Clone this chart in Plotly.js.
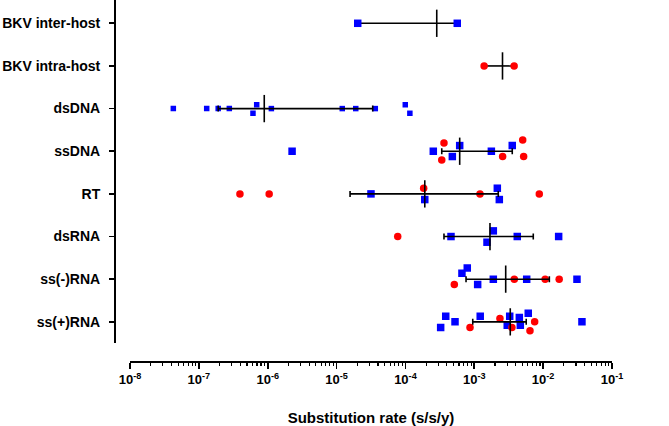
<!DOCTYPE html>
<html>
<head>
<meta charset="utf-8">
<script src="https://cdn.plot.ly/plotly-3.0.1.min.js"></script>
<style>html,body{margin:0;padding:0;background:#fff;}#chart{width:669px;height:426px;}</style>
</head>
<body>
<div id="chart"></div>
<script>
// Categories (top to bottom)
const categories = ['BKV inter-host','BKV intra-host','dsDNA','ssDNA','RT','dsRNA','ss(-)RNA','ss(+)RNA'];

// Individual rates (s/s/y) per category; offsets = vertical jitter in category units
const interHostBlue = [2.03e-5, 5.66e-4];
const interHostBlueOffset = [0, 0];
const intraHostRed = [1.39e-3, 3.79e-3];
const intraHostRedOffset = [0, 0];
const dsDNABlue = [4.26e-8, 1.30e-7, 1.91e-7, 2.77e-7, 6.11e-7, 6.92e-7, 1.13e-6, 1.21e-5, 1.90e-5, 3.65e-5, 9.95e-5, 1.16e-4];
const dsDNABlueOffset = [0, 0, 0, 0, 0.11, -0.09, 0, 0, 0, 0, -0.09, 0.11];
const ssDNABlue = [2.26e-6, 2.54e-4, 4.80e-4, 6.14e-4, 1.77e-3, 3.56e-3];
const ssDNABlueOffset = [0, 0, 0.124, -0.133, 0, -0.133];
const ssDNARed = [3.63e-4, 3.37e-4, 2.58e-3, 5.05e-3, 5.21e-3];
const ssDNARedOffset = [-0.195, 0.204, 0.124, -0.265, 0.124];
const rtBlue = [3.16e-5, 1.91e-4, 2.16e-3, 2.31e-3];
const rtBlueOffset = [0, 0.133, -0.133, 0.133];
const rtRed = [3.95e-7, 1.05e-6, 1.84e-4, 1.21e-3, 8.79e-3];
const rtRedOffset = [0, 0, -0.133, 0, 0];
const dsRNABlue = [4.59e-4, 1.89e-3, 1.53e-3, 4.21e-3, 1.68e-2];
const dsRNABlueOffset = [0, -0.133, 0.133, 0, 0];
const dsRNARed = [7.73e-5];
const dsRNARedOffset = [0];
const ssMinusBlue = [7.91e-4, 6.62e-4, 1.12e-3, 1.89e-3, 5.77e-3, 3.10e-2];
const ssMinusBlueOffset = [-0.265, -0.14, 0.124, 0, 0, 0];
const ssMinusRed = [5.13e-4, 3.81e-3, 1.07e-2, 1.71e-2];
const ssMinusRedOffset = [0.124, 0, 0, 0];
const ssPlusBlue = [3.85e-4, 3.25e-4, 5.25e-4, 1.22e-3, 3.27e-3, 3.01e-3, 4.51e-3, 4.66e-3, 6.08e-3, 3.66e-2];
const ssPlusBlueOffset = [-0.133, 0.133, 0, -0.133, -0.133, 0.078, -0.10, 0.078, -0.203, 0];
const ssPlusRed = [8.67e-4, 2.36e-3, 3.52e-3, 7.53e-3, 6.44e-3];
const ssPlusRedOffset = [0.133, -0.078, 0.133, 0, 0.21];

// Summary per category: median and interquartile range
const medianRate = [2.85e-4, 2.57e-3, 8.91e-7, 6.14e-4, 1.91e-4, 1.69e-3, 2.86e-3, 3.33e-3];
const lowRate = [2.03e-5, 1.39e-3, 1.91e-7, 3.37e-4, 1.57e-5, 3.63e-4, 7.59e-4, 9.50e-4];
const highRate = [5.66e-4, 3.79e-3, 3.35e-5, 3.56e-3, 2.23e-3, 7.19e-3, 1.23e-2, 5.68e-3];

// X tick labels
const xTickVals = [1e-8, 1e-7, 1e-6, 1e-5, 1e-4, 1e-3, 1e-2, 1e-1];
const xTickText = ['10<sup>-8</sup>','10<sup>-7</sup>','10<sup>-6</sup>','10<sup>-5</sup>','10<sup>-4</sup>','10<sup>-3</sup>','10<sup>-2</sup>','10<sup>-1</sup>'];

const minorVals = [];
for (let d = -8; d <= -2; d++) for (let k = 2; k <= 9; k++) minorVals.push(k * Math.pow(10, d));

function collect(groups) {
  const xs = [], ys = [];
  groups.forEach(([vals, offs, row]) => {
    vals.forEach((v, i) => { xs.push(v); ys.push(row + offs[i]); });
  });
  return {xs, ys};
}

const blueMain = collect([
  [interHostBlue, interHostBlueOffset, 0],
  [ssDNABlue, ssDNABlueOffset, 3],
  [rtBlue, rtBlueOffset, 4],
  [dsRNABlue, dsRNABlueOffset, 5],
  [ssMinusBlue, ssMinusBlueOffset, 6],
  [ssPlusBlue, ssPlusBlueOffset, 7]
]);
const blueSmall = collect([[dsDNABlue, dsDNABlueOffset, 2]]);
const redPts = collect([
  [intraHostRed, intraHostRedOffset, 1],
  [ssDNARed, ssDNARedOffset, 3],
  [rtRed, rtRedOffset, 4],
  [dsRNARed, dsRNARedOffset, 5],
  [ssMinusRed, ssMinusRedOffset, 6],
  [ssPlusRed, ssPlusRedOffset, 7]
]);

function summary(rows, capWidth) {
  return {
    x: rows.map(r => medianRate[r]),
    y: rows,
    type: 'scatter', mode: 'markers', hoverinfo: 'skip', showlegend: false,
    marker: {symbol: 'line-ns', size: 19.5, color: 'black', line: {color: 'black', width: 1.6}},
    error_x: {
      type: 'data', symmetric: false,
      array: rows.map(r => highRate[r] - medianRate[r]),
      arrayminus: rows.map(r => medianRate[r] - lowRate[r]),
      width: capWidth, thickness: 1.6, color: 'black'
    }
  };
}

const BLUE = 'rgb(0,0,255)', RED = 'rgb(255,0,0)';
const traces = [
  summary([0, 1], 0),
  {x: blueMain.xs, y: blueMain.ys, type: 'scatter', mode: 'markers', showlegend: false,
   marker: {symbol: 'square', size: 7.5, color: BLUE, line: {width: 0}}},
  {x: blueSmall.xs, y: blueSmall.ys, type: 'scatter', mode: 'markers', showlegend: false,
   marker: {symbol: 'square', size: 5.5, color: BLUE, line: {width: 0}}},
  {x: redPts.xs, y: redPts.ys, type: 'scatter', mode: 'markers', showlegend: false,
   marker: {symbol: 'circle', size: 7.5, color: RED, line: {width: 0}}},
  summary([2, 3, 4, 5, 6, 7], 3)
];

const FONT = '"Liberation Sans", Arial, Helvetica, sans-serif';
const XDOM = [0.0321, 1];
const layout = {
  width: 669, height: 426,
  margin: {l: 114, r: 57, t: 0, b: 65},
  paper_bgcolor: 'white', plot_bgcolor: 'white',
  showlegend: false,
  font: {family: FONT, color: 'black'},
  xaxis: {
    type: 'log', range: [-8, -1], domain: XDOM,
    anchor: 'free', position: 0,
    showline: true, linecolor: 'black', linewidth: 1.6,
    showgrid: false, zeroline: false,
    ticks: 'outside', ticklen: 6, tickwidth: 1.6, tickcolor: 'black',
    tickmode: 'array', tickvals: xTickVals, ticktext: xTickText,
    tickfont: {family: FONT, size: 13, color: 'black', weight: 'bold'},
    title: {text: '<b>Substitution rate (s/s/y)</b>', font: {family: FONT, size: 15, color: 'black'}, standoff: 27},
    automargin: false
  },
  xaxis2: {
    type: 'log', range: [-8, -1], domain: XDOM,
    anchor: 'free', position: 0, overlaying: 'x',
    showline: false, showgrid: false, zeroline: false,
    ticks: 'outside', ticklen: 3.5, tickwidth: 1.2, tickcolor: 'black',
    tickmode: 'array', tickvals: minorVals, showticklabels: false,
    automargin: false
  },
  yaxis: {
    range: [7.505, -0.546], domain: [0.0488, 1],
    anchor: 'free', position: 0,
    showline: true, linecolor: 'black', linewidth: 1.6,
    showgrid: false, zeroline: false,
    ticks: 'outside', ticklen: 5, tickwidth: 1.6, tickcolor: 'black',
    tickmode: 'array', tickvals: [0, 1, 2, 3, 4, 5, 6, 7], ticktext: categories,
    tickfont: {family: FONT, size: 14, color: 'black', weight: 'bold'},
    ticklabelstandoff: 6,
    automargin: false
  }
};

// invisible trace to activate the minor-tick overlay axis
traces.push({x: [1e-8], y: [0], xaxis: 'x2', yaxis: 'y', type: 'scatter', mode: 'markers',
  marker: {opacity: 0}, hoverinfo: 'skip', showlegend: false});

Plotly.newPlot('chart', traces, layout, {displayModeBar: false, staticPlot: true});
</script>
</body>
</html>
